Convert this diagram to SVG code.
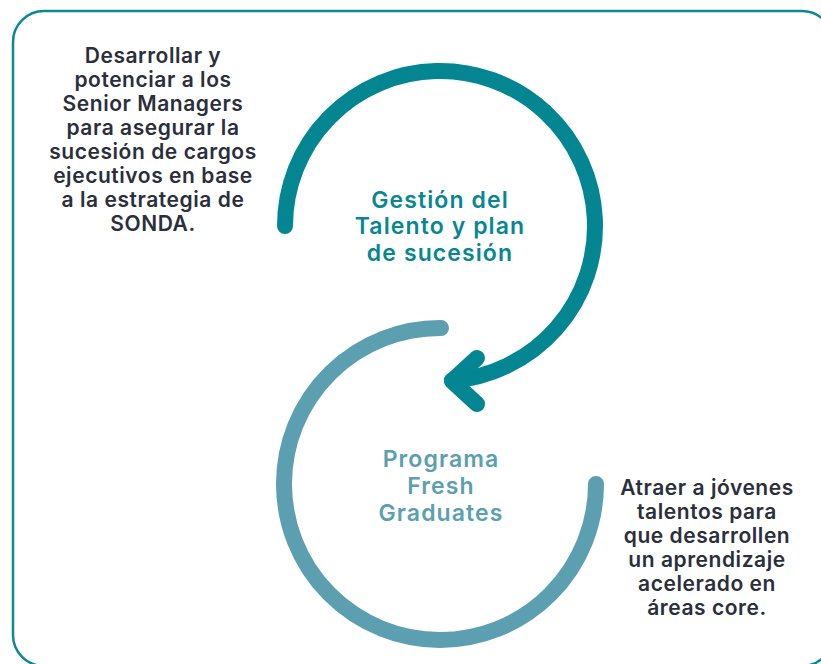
<svg xmlns="http://www.w3.org/2000/svg" width="821" height="664" viewBox="0 0 821 664">
<style>
.frame{fill:none;stroke:#0A8893;stroke-width:2.5}
.arc{fill:none;stroke-width:16;stroke-linecap:round;stroke-linejoin:round}
.dark{stroke:#038692}
.light{stroke:#5B9FB0}
.desc{font-family:Inter,"Liberation Sans",sans-serif;font-weight:600;font-size:21px;letter-spacing:0.55px;fill:#2A2F3B;text-anchor:middle}
.title{font-family:Inter,"Liberation Sans",sans-serif;font-weight:600;font-size:23px;letter-spacing:1.1px;text-anchor:middle}
</style>
<rect class="frame" x="13" y="11" width="820" height="655" rx="31" ry="31"/>
<g id="connectors">
<path class="arc dark" d="M 285 226 A 155 155 0 1 1 452 380.5"/>
<path class="arc dark" d="M 477 358 L 452 381 L 477 404"/>
<path class="arc light" d="M 441 328 A 156 156 0 1 0 596 484"/>
</g>
<g id="node-talento">
<text class="title" fill="#078792"><tspan x="440" y="208">Gestión del</tspan><tspan x="440" y="234">Talento y plan</tspan><tspan x="440" y="261">de sucesión</tspan></text>
</g>
<g id="node-fresh">
<text class="title" fill="#5B9FB0"><tspan x="441" y="467">Programa</tspan><tspan x="441" y="494">Fresh</tspan><tspan x="441" y="521">Graduates</tspan></text>
</g>
<g id="desc-senior">
<text class="desc"><tspan x="153" y="63">Desarrollar y</tspan><tspan x="153" y="87">potenciar a los</tspan><tspan x="153" y="111">Senior Managers</tspan><tspan x="153" y="135">para asegurar la</tspan><tspan x="153" y="159">sucesión de cargos</tspan><tspan x="153" y="183">ejecutivos en base</tspan><tspan x="153" y="207">a la estrategia de</tspan><tspan x="153" y="231">SONDA.</tspan></text>
</g>
<g id="desc-fresh">
<text class="desc"><tspan x="707" y="495">Atraer a jóvenes</tspan><tspan x="707" y="519">talentos para</tspan><tspan x="707" y="543">que desarrollen</tspan><tspan x="707" y="567">un aprendizaje</tspan><tspan x="707" y="591">acelerado en</tspan><tspan x="707" y="615">áreas core.</tspan></text>
</g>
</svg>
